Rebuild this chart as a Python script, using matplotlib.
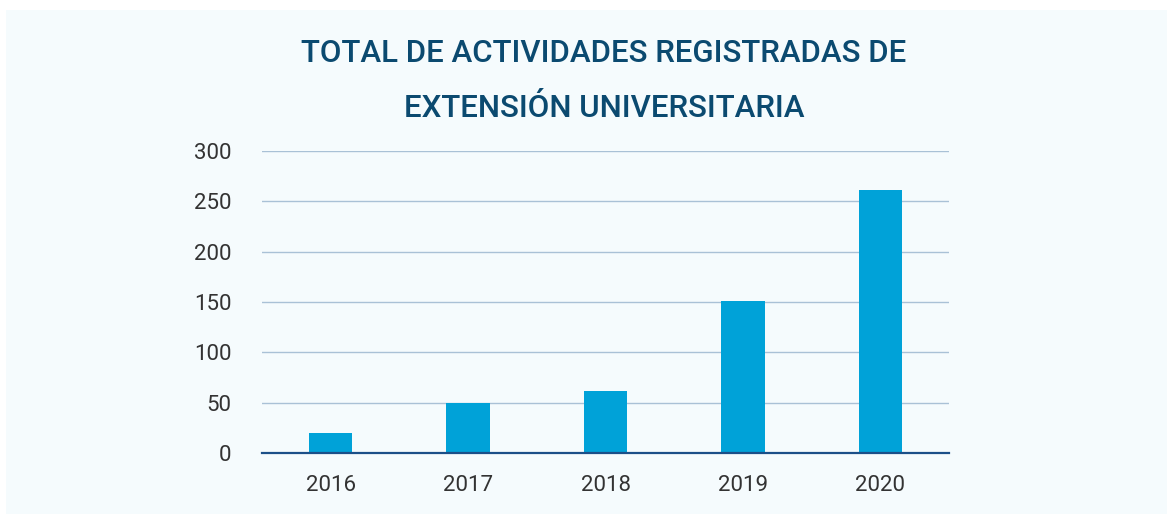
import matplotlib.pyplot as plt
from matplotlib.patches import Rectangle

YEARS = ["2016", "2017", "2018", "2019", "2020"]
ACTIVITIES = [20, 50, 62, 151, 261]
Y_TICKS = [0, 50, 100, 150, 200, 250, 300]

TITLE = "TOTAL DE ACTIVIDADES REGISTRADAS DE\nEXTENSIÓN UNIVERSITARIA"

BG = "#F5FBFD"
BAR = "#00A2D8"
TITLE_C = "#0B4A70"
GRID = "#A9C1D6"
AXIS = "#1B4F88"
TEXT = "#333333"

plt.rcParams["font.family"] = ["Roboto", "DejaVu Sans"]

fig = plt.figure(figsize=(11.67, 5.14), dpi=100)
fig.patch.set_facecolor("white")
# light panel, offset from top-left edge
fig.patches.append(Rectangle((6 / 1167, 0), 1, 504 / 514, transform=fig.transFigure,
                             facecolor=BG, edgecolor="none", zorder=-10))

ax = fig.add_axes([262 / 1167, 1 - 453 / 514, 687 / 1167, 302 / 514])
ax.set_facecolor("none")

x = range(len(YEARS))
ax.bar(x, ACTIVITIES, width=0.315, color=BAR, zorder=3)

ax.set_xlim(-0.5, len(YEARS) - 0.5)
ax.set_ylim(0, 300)
ax.set_yticks(Y_TICKS)
ax.set_xticks(list(x))
ax.set_xticklabels(YEARS)
ax.yaxis.grid(True, color=GRID, lw=1.0, zorder=0)
ax.set_axisbelow(True)

for s in ["top", "right", "left"]:
    ax.spines[s].set_visible(False)
ax.spines["bottom"].set_color(AXIS)
ax.spines["bottom"].set_linewidth(1.6)
ax.spines["bottom"].set_zorder(4)

ax.tick_params(axis="both", length=0, labelsize=16, labelcolor=TEXT)
ax.tick_params(axis="y", pad=22)
ax.tick_params(axis="x", pad=16)

fig.text(604 / 1167, 1 - 81 / 514, TITLE, ha="center", va="center",
         fontsize=22.5, fontweight="medium", color=TITLE_C, linespacing=2.12)

fig.savefig("out.png", dpi=100, facecolor="white")
